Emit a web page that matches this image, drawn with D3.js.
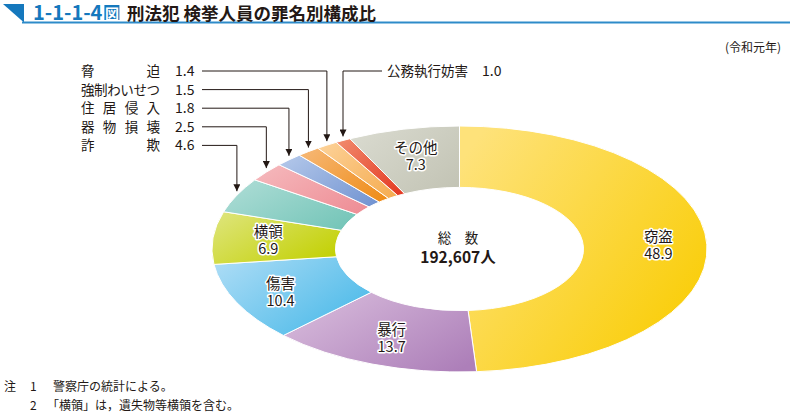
<!DOCTYPE html>
<html><head><meta charset="utf-8">
<script src="https://cdn.jsdelivr.net/npm/d3@7"></script>
<style>
body{margin:0;background:#fff;}
svg{display:block;font-family:"Noto Sans CJK JP","Noto Sans",sans-serif;}
</style></head>
<body><svg id="chart" width="790" height="419"></svg>
<script>
const categories = ["窃盗","暴行","傷害","横領","詐欺","器物損壊","住居侵入","強制わいせつ","脅迫","公務執行妨害","その他"];
const values = [48.9,13.7,10.4,6.9,4.6,2.5,1.8,1.5,1.4,1.0,7.3];
const colorsLight = ["#fee27a","#d8bcdc","#a9dbf5","#dde477","#acdcd5","#f5b7bb","#b1c6e9","#f6b672","#fcd095","#f0876a","#d9dacf"];
const colorsDark  = ["#f9cc00","#ad7fb9","#46b8e8","#c2d000","#74c5b8","#ee8e96","#7495d2","#ef8d1a","#f5ad53","#e43b24","#c3c4b5"];
const insideLabels = ["窃盗","暴行","傷害","横領","その他"];
const leftLabels = ["脅迫","強制わいせつ","住居侵入","器物損壊","詐欺"];
const rightLabels = ["公務執行妨害"];
const totalLabel = "総　数";
const totalValue = "192,607人";
const figNo = "1-1-1-4";
const title = "刑法犯 検挙人員の罪名別構成比";
const yearNote = "(令和元年)";
const notes = [["注","1","警察庁の統計による。"],["","2","「横領」は，遺失物等横領を含む。"]];

const svg = d3.select("#chart");
const W = 790;
const cx = 459.5, cy = 249, R = 247.5, Rin = 124, ry = 123;
const sy = ry / R;
const textColor = "#231815";

// header
svg.append("path").attr("d","M3,4 L24,4 L24,22.5 Z").attr("fill","#1578bd");
svg.append("line").attr("x1",22).attr("x2",W).attr("y1",22.5).attr("y2",22.5).attr("stroke","#2e8bc9").attr("stroke-width",1.8);
const numText = svg.append("text").attr("x",33).attr("y",20).attr("font-size",20).attr("font-weight","bold").attr("fill","#1578bd").text(figNo);
const numEnd = 33 + numText.node().getComputedTextLength() + 2;
svg.append("rect").attr("x",numEnd).attr("y",5).attr("width",15).attr("height",15).attr("fill","#1578bd");
svg.append("text").attr("x",numEnd+7.5).attr("y",18.5).attr("text-anchor","middle").attr("font-size",14).attr("font-weight","bold").attr("fill","#fff").text("図");
svg.append("text").attr("x",127).attr("y",20).attr("font-size",17.5).attr("font-weight","bold").attr("fill",textColor).text(title);
svg.append("text").attr("x",781).attr("y",52).attr("text-anchor","end").attr("font-size",12).attr("fill",textColor).text(yearNote);

// donut
const data = categories.map((c,i)=>({name:c, value:values[i], i}));
const pie = d3.pie().value(d=>d.value).sort(null).startAngle(0).endAngle(2*Math.PI);
const arcs = pie(data);
const arc = d3.arc().innerRadius(Rin).outerRadius(R);

const defs = svg.append("defs");
arcs.forEach((a,i)=>{
  const g = defs.append("linearGradient").attr("id","g"+i)
    .attr("x1","0").attr("y1","0.15").attr("x2","1").attr("y2","0.85");
  g.append("stop").attr("offset","0").attr("stop-color",colorsLight[i]);
  g.append("stop").attr("offset","1").attr("stop-color",colorsDark[i]);
});

const donut = svg.append("g").attr("transform",`translate(${cx},${cy}) scale(1,${sy})`);
donut.selectAll("path").data(arcs).join("path")
  .attr("d",arc)
  .attr("fill",(d,i)=>`url(#g${i})`)
  .attr("stroke","#fff").attr("stroke-width",1)
  .attr("vector-effect","non-scaling-stroke");

function pt(angle, r){ return [cx + r*Math.sin(angle), cy - r*Math.cos(angle)*sy]; }

// inside labels
const labR = 192;
const labG = svg.append("g");
arcs.filter(a=>insideLabels.includes(a.data.name)).forEach(a=>{
  const mid = (a.startAngle+a.endAngle)/2;
  const r = (a.data.name==="窃盗" || a.data.name==="傷害") ? 199 : labR;
  const [x,y] = pt(mid, r);
  [[a.data.name,-3.5],[a.data.value.toFixed(1),13.5]].forEach(([s,dy])=>{
    labG.append("text").attr("x",x).attr("y",y+dy).attr("text-anchor","middle")
      .attr("font-size",14.5).attr("fill",textColor)
      .attr("stroke","#fff").attr("stroke-width",3).attr("stroke-linejoin","round").attr("paint-order","stroke")
      .text(s);
  });
});

// center text
svg.append("text").attr("x",458).attr("y",243).attr("text-anchor","middle").attr("font-size",13.5).attr("fill",textColor).text(totalLabel);
svg.append("text").attr("x",458).attr("y",263).attr("text-anchor","middle").attr("font-size",15.5).attr("font-weight","bold").attr("fill",textColor).text(totalValue);

// arrow marker
defs.append("marker").attr("id","arrow").attr("viewBox","0 0 10 10").attr("refX",10).attr("refY",5)
  .attr("markerWidth",7).attr("markerHeight",7).attr("markerUnits","userSpaceOnUse").attr("orient","auto")
  .append("path").attr("d","M0,0 L10,5 L0,10 Z").attr("fill",textColor);

// left leader labels
const rowY0 = 71, rowStep = 18.6;
const nameLeft = 81, nameRight = 160, fs = 13.5;
const lg = svg.append("g");
leftLabels.forEach((name,k)=>{
  const a = arcs.find(d=>d.data.name===name);
  const y = rowY0 + k*rowStep;
  const chars = Array.from(name);
  const n = chars.length;
  chars.forEach((ch,j)=>{
    const x = n===1 ? nameLeft : nameLeft + j*((nameRight-nameLeft-fs)/(n-1));
    lg.append("text").attr("x",x).attr("y",y+5).attr("font-size",fs).attr("fill",textColor).text(ch);
  });
  lg.append("text").attr("x",175).attr("y",y+5).attr("font-size",14).attr("fill",textColor).text(a.data.value.toFixed(1));
  const mid = (a.startAngle+a.endAngle)/2;
  const [tx,ty] = pt(mid, R);
  lg.append("path").attr("d",`M202,${y} H${tx} V${ty-4}`).attr("fill","none")
    .attr("stroke",textColor).attr("stroke-width",1).attr("marker-end","url(#arrow)");
});

// right leader label
rightLabels.forEach(name=>{
  const a = arcs.find(d=>d.data.name===name);
  const y = rowY0;
  lg.append("text").attr("x",387).attr("y",y+5).attr("font-size",fs).attr("fill",textColor).text(name);
  lg.append("text").attr("x",482).attr("y",y+5).attr("font-size",14).attr("fill",textColor).text(a.data.value.toFixed(1));
  const mid = (a.startAngle+a.endAngle)/2;
  const [tx,ty] = pt(mid, R);
  lg.append("path").attr("d",`M382,${y} H${tx} V${ty-4}`).attr("fill","none")
    .attr("stroke",textColor).attr("stroke-width",1).attr("marker-end","url(#arrow)");
});

// notes
notes.forEach((n,k)=>{
  const y = 391 + k*19;
  svg.append("text").attr("x",4).attr("y",y).attr("font-size",12).attr("fill",textColor).text(n[0]);
  svg.append("text").attr("x",30).attr("y",y).attr("font-size",12).attr("fill",textColor).text(n[1]);
  svg.append("text").attr("x",k===0?53:47).attr("y",y).attr("font-size",12).attr("fill",textColor).text(n[2]);
});
</script></body></html>
